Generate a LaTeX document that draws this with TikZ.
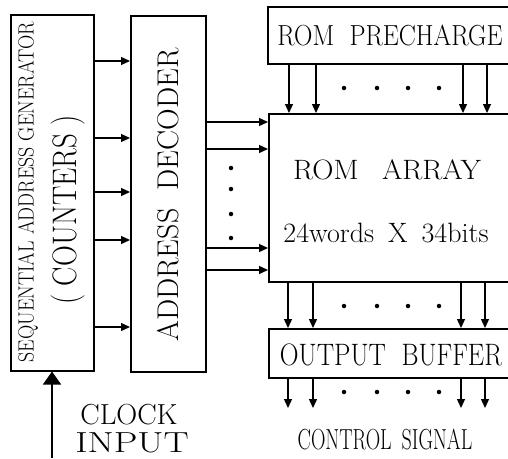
\documentclass[tikz,border=0pt]{standalone}
\usepackage{fontspec}
\usetikzlibrary{arrows.meta}
\begin{document}
\begin{tikzpicture}[x=1pt,y=-1pt,
  blk/.style={draw,line width=1.5pt,inner sep=0pt,anchor=north west},
  sig/.style={line width=1.3pt,-{Triangle[length=9pt,width=8pt]}},
  dot/.style={circle,fill,inner sep=0pt,minimum size=4.5pt},
  txt/.style={inner sep=0pt}]
\useasboundingbox (0,0) rectangle (508,458);
\clip (0,0) rectangle (508,458);
% blocks
\node[blk,minimum width=83pt,minimum height=356pt] (sag) at (10,14) {};
\node[blk,minimum width=75pt,minimum height=356pt] (dec) at (130,15) {};
\node[blk,minimum width=270pt,minimum height=57pt] (pre) at (267,6) {};
\node[blk,minimum width=270pt,minimum height=168pt] (rom) at (268,113) {};
\node[blk,minimum width=270pt,minimum height=49pt] (buf) at (268,328) {};
% texts
\node[txt,rotate=90,xscale=0.9,font=\fontsize{22}{22}\selectfont] (sagtxt) at (28,192) {SEQUENTIAL ADDRESS GENERATOR};
\node[txt,rotate=90,xscale=0.85,font=\fontsize{34}{34}\selectfont] (cnttxt) at (68,210) {( COUNTERS )};
\node[txt,rotate=90,font=\fontsize{30}{30}\selectfont] (dectxt) at (168,195) {ADDRESS\hspace{0.6em}DECODER};
\node[txt,xscale=0.88,font=\fontsize{29}{29}\selectfont] (pretxt) at (390,35) {ROM\hspace{0.6em}PRECHARGE};
\node[txt,xscale=1.05,font=\fontsize{28}{28}\selectfont] (romtxt) at (387,170) {ROM\hspace{0.8em}ARRAY};
\node[txt,font=\fontsize{28}{28}\selectfont] (sizetxt) at (386,233) {24words\hspace{0.5em}X\hspace{0.5em}34bits};
\node[txt,xscale=0.84,font=\fontsize{31}{31}\selectfont] (buftxt) at (391,355) {OUTPUT\hspace{0.6em}BUFFER};
\node[txt,font=\fontsize{29}{29}\selectfont] (clk) at (129,415) {CLOCK};
\node[txt,xscale=1.3,font=\fontsize{29}{29}\selectfont\addfontfeatures{LetterSpace=10}] (inp) at (132,443) {INPUT};
\node[txt,xscale=0.69,font=\fontsize{29}{29}\selectfont] (ctl) at (385,439) {CONTROL\hspace{0.5em}SIGNAL};
% counters to decoder
\foreach \y in {61,138,192,240,327}
  \draw[sig] (sag.east |- 0,\y) -- (dec.west |- 0,\y);
% decoder to rom array
\foreach \y in {122,149,248,270}
  \draw[sig] (dec.east |- 0,\y) -- (rom.west |- 0,\y);
\foreach \y in {168,189,214,238}
  \node[dot] at (231,\y) {};
% precharge, array, buffer
\foreach \x in {289,316,463,487}
  \draw[sig] (pre.south -| \x,0) -- (rom.north -| \x,0);
\foreach \x in {288,313,461,485} {
  \draw[sig] (rom.south -| \x,0) -- (buf.north -| \x,0);
  \coordinate (out\x) at (\x,408);
  \draw[sig] (buf.south -| \x,0) -- (out\x);
}
\foreach \x in {344,377,408,439} {
  \node[dot] at (\x,88) {};
  \node[dot] at (\x,306) {};
  \node[dot] at (\x,392) {};
}
% clock
\coordinate (clkin) at (52,458);
\draw[line width=1.4pt,-{Triangle[length=13pt,width=18pt]}] (clkin) -- (sag.south -| clkin);
\end{tikzpicture}
\end{document}
